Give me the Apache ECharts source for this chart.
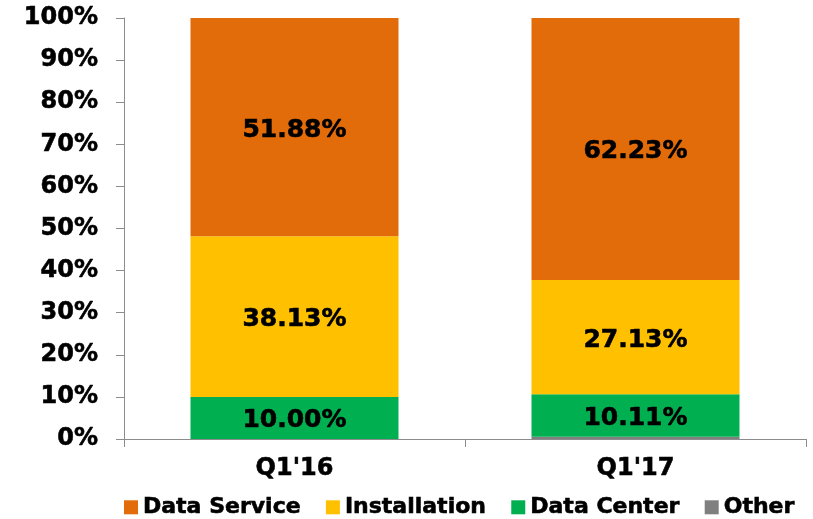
<!DOCTYPE html>
<html>
<head>
<meta charset="utf-8">
<script src="https://cdn.jsdelivr.net/npm/echarts@6/dist/echarts.min.js"></script>
<style>
  html, body { margin: 0; padding: 0; background: #fff; }
  #chart { width: 813px; height: 519px; }
</style>
</head>
<body>
<div id="chart"></div>
<script>
  // 季度类别
  var categories = ["Q1'16", "Q1'17"];
  // 各项占比 (%)
  var otherData = [0, 0.53];
  var dataCenterData = [10.00, 10.11];
  var installationData = [38.13, 27.13];
  var dataServiceData = [51.88, 62.23];
  var legendNames = ['Data Service', 'Installation', 'Data Center', 'Other'];

  var font = 'Verdana, "DejaVu Sans", sans-serif';
  var axisColor = '#8c8c8c';

  // 加粗文字（描边加重）
  var heavy = function (size) {
    return {
      color: '#000',
      fontFamily: font,
      fontWeight: 'bold',
      fontSize: size,
      textBorderColor: '#000',
      textBorderWidth: 0.6
    };
  };

  var barLabel = Object.assign({
    show: true,
    position: 'inside',
    offset: [0, 3],
    formatter: function (p) { return p.value.toFixed(2) + '%'; }
  }, heavy(25));

  var makeSeries = function (name, data, color, label) {
    return {
      name: name,
      type: 'bar',
      stack: 'total',
      barWidth: '61%',
      data: data,
      itemStyle: { color: color },
      label: label ? barLabel : { show: false }
    };
  };

  var chart = echarts.init(document.getElementById('chart'));
  chart.setOption({
    animation: false,
    textStyle: { fontFamily: font },
    grid: { left: 124, right: 7, top: 18, bottom: 80 },
    legend: {
      data: legendNames,
      top: 491,
      left: 119,
      itemWidth: 14,
      itemHeight: 14,
      itemGap: 25,
      icon: 'rect',
      textStyle: heavy(22)
    },
    xAxis: {
      type: 'category',
      data: categories,
      axisLine: { lineStyle: { color: axisColor, width: 1 } },
      axisTick: { show: true, length: 8, lineStyle: { color: axisColor } },
      axisLabel: Object.assign({ margin: 18 }, heavy(24))
    },
    yAxis: {
      type: 'value',
      min: 0,
      max: 100,
      interval: 10,
      splitLine: { show: false },
      axisLine: { show: true, lineStyle: { color: axisColor, width: 1 } },
      axisTick: { show: true, length: 8, lineStyle: { color: axisColor } },
      axisLabel: Object.assign({ margin: 26, formatter: '{value}%' }, heavy(24))
    },
    series: [
      makeSeries('Other', otherData, '#7f7f7f', false),
      makeSeries('Data Center', dataCenterData, '#00b050', true),
      makeSeries('Installation', installationData, '#ffc000', true),
      makeSeries('Data Service', dataServiceData, '#e36c0a', true)
    ]
  });
</script>
</body>
</html>
